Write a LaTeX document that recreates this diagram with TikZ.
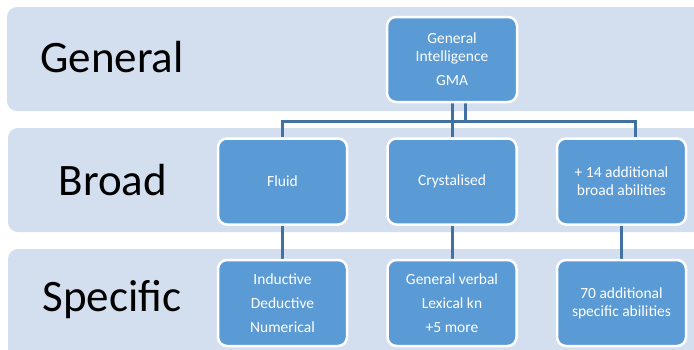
\documentclass[tikz,border=0pt]{standalone}
\usepackage{fontspec}
\setmainfont{Carlito}
\definecolor{bandc}{RGB}{211,222,239}
\definecolor{boxc}{RGB}{91,155,213}
\definecolor{linec}{RGB}{65,113,160}
\pgfdeclarelayer{bandlayer}
\pgfdeclarelayer{connlayer}
\pgfsetlayers{bandlayer,connlayer,main}
\tikzset{
  band/.style={fill=bandc, draw=none, rounded corners=10pt},
  lvl/.style={font=\fontsize{45}{50}\selectfont, text=black, inner sep=0pt},
  abox/.style={fill=boxc, draw=white, line width=2.5pt, rounded corners=9pt,
     minimum width=129pt, minimum height=86pt, inner sep=0pt, align=center,
     text=white, font=\fontsize{15.5}{18}\selectfont},
  conn/.style={draw=linec, line width=3pt},
}
\begin{document}
\begin{tikzpicture}[x=1pt,y=-1pt]
\useasboundingbox (0,0) rectangle (694,349);
\begin{pgfonlayer}{bandlayer}
\clip (0,0) rectangle (694,349);
\fill[white] (0,0) rectangle (694,349);
\path[band] (7,7) rectangle (730,111);
\path[band] (8,128) rectangle (730,232);
\path[band] (8,249) rectangle (730,380);
\end{pgfonlayer}
\node[lvl] (lg) at (112,57) {General};
\node[lvl] (lb) at (113,180) {Broad};
\node[lvl] (ls) at (112,300) {Specific};
\coordinate (busL) at (283,121);
\coordinate (busR) at (635,121);
\coordinate (gmaR) at (465,102);
\node[abox, minimum width=130pt, minimum height=85pt] (gma) at (452,59.5) {General\\Intelligence\\[6pt]GMA};
\node[abox] (fluid) at (282.5,181.5) {Fluid};
\node[abox] (cryst) at (452,181.5) {Crystalised};
\node[abox] (more) at (621.5,181.5) {+ 14 additional\\broad abilities};
\node[abox] (sf) at (282.5,303) {Inductive\\[6pt]Deductive\\[6pt]Numerical};
\node[abox] (sc) at (452,303) {General verbal\\[6pt]Lexical kn\\[6pt]+5 more};
\node[abox] (sm) at (621.5,303) {70 additional\\specific abilities};
\begin{pgfonlayer}{connlayer}
\path[conn] (gma.south) -- (cryst.north);
\path[conn] (gmaR) -- (gmaR |- busL);
\path[conn] (fluid.north) -- (fluid.north |- busL) -- (busR) -- (busR |- more.north);
\path[conn] (fluid.south) -- (sf.north);
\path[conn] (cryst.south) -- (sc.north);
\path[conn] (more.south) -- (sm.north);
\end{pgfonlayer}
\end{tikzpicture}
\end{document}
